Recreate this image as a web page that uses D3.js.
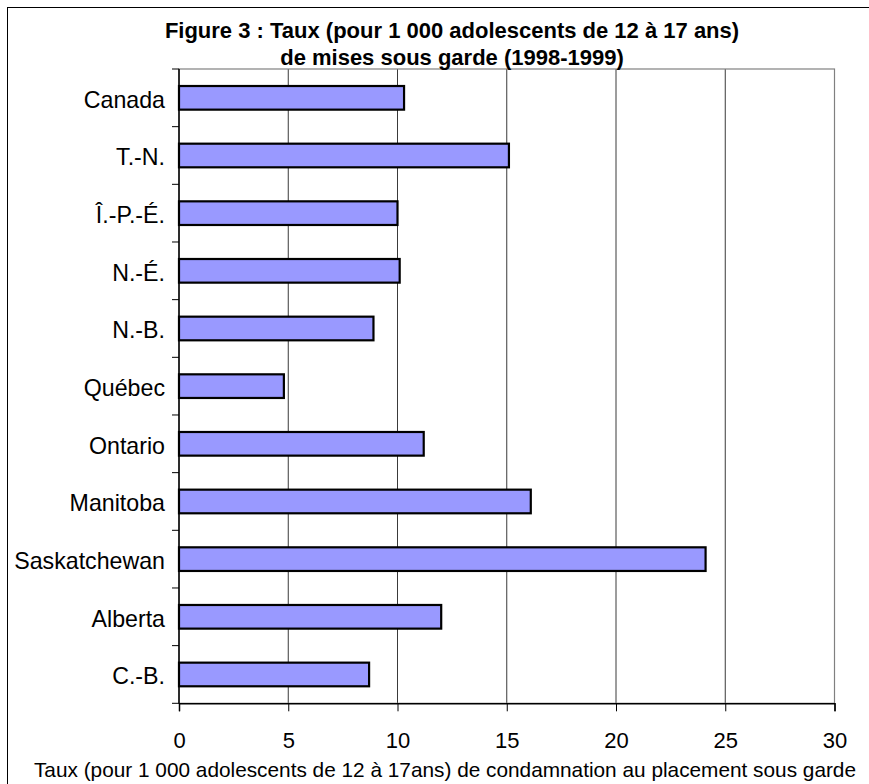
<!DOCTYPE html>
<html>
<head>
<meta charset="utf-8">
<script src="https://cdn.jsdelivr.net/npm/d3@7"></script>
<style>
body { margin: 0; background: #fff; }
svg { display: block; font-family: "Liberation Sans", Arial, sans-serif; }
</style>
</head>
<body>
<svg id="chart" width="869" height="784"></svg>
<script>
var provinces = ["Canada", "T.-N.", "Î.-P.-É.", "N.-É.", "N.-B.", "Québec", "Ontario", "Manitoba", "Saskatchewan", "Alberta", "C.-B."];
var rates = [10.3, 15.1, 10.0, 10.1, 8.9, 4.8, 11.2, 16.1, 24.1, 12.0, 8.7];
var xTicks = [0, 5, 10, 15, 20, 25, 30];
var titleLines = ["Figure 3 : Taux (pour 1 000 adolescents de 12 à 17 ans)", "de mises sous garde (1998-1999)"];
var xTitle = "Taux (pour 1 000 adolescents de 12 à 17ans) de condamnation au placement sous garde";

var svg = d3.select("#chart"),
    margin = {top: 69, right: 34, bottom: 81, left: 179},
    width = 834.5 - margin.left,
    height = 703.3 - margin.top,
    g = svg.append("g").attr("transform", "translate(" + margin.left + "," + margin.top + ")");

// outer chart frame (runs off the page on the right and bottom)
svg.append("rect")
    .attr("x", 7.5).attr("y", 7.5)
    .attr("width", 880).attr("height", 800)
    .attr("fill", "none").attr("stroke", "#000").attr("stroke-width", 1);

var x = d3.scaleLinear()
    .domain([0, 30])
    .range([0, width]);

var y = d3.scaleBand()
    .domain(provinces)
    .range([0, height])
    .paddingInner(0.59)
    .paddingOuter(0.295);

var band = d3.scaleBand().domain(provinces).range([0, height]);

// gridlines
g.append("g")
    .selectAll("line")
    .data(xTicks.slice(1))
    .join("line")
    .attr("x1", d => x(d)).attr("x2", d => x(d))
    .attr("y1", 0).attr("y2", height)
    .attr("stroke", "#3a3a3a").attr("stroke-width", 1);

// plot border
g.append("rect")
    .attr("width", width).attr("height", height)
    .attr("fill", "none").attr("stroke", "#808080").attr("stroke-width", 1.2);

// bars
g.append("g")
    .selectAll("rect")
    .data(rates)
    .join("rect")
    .attr("x", 0)
    .attr("y", (d, i) => y(provinces[i]))
    .attr("width", d => x(d))
    .attr("height", y.bandwidth())
    .attr("fill", "#9999ff")
    .attr("stroke", "#000")
    .attr("stroke-width", 2.2);

// y axis: ticks at band boundaries, labels centred in bands
var yAxis = g.append("g");
yAxis.append("line")
    .attr("x1", 0).attr("x2", 0).attr("y1", 0).attr("y2", height)
    .attr("stroke", "#000").attr("stroke-width", 1.5);
yAxis.selectAll("line.tk")
    .data(d3.range(provinces.length + 1))
    .join("line")
    .attr("class", "tk")
    .attr("x1", -7).attr("x2", 0)
    .attr("y1", i => i * band.step()).attr("y2", i => i * band.step())
    .attr("stroke", "#000").attr("stroke-width", 1);
yAxis.selectAll("text")
    .data(provinces)
    .join("text")
    .attr("x", -14)
    .attr("y", d => band(d) + band.bandwidth() / 2)
    .attr("dy", "0.42em")
    .attr("text-anchor", "end")
    .attr("font-size", 23.2)
    .attr("fill", "#000")
    .text(d => d);

// x axis
g.append("g")
    .attr("class", "axis axis--x")
    .attr("transform", "translate(0," + height + ")")
    .call(d3.axisBottom(x).tickValues(xTicks).tickSize(8).tickPadding(21))
    .call(a => a.select(".domain").attr("stroke-width", 1.5))
    .call(a => a.selectAll("text").attr("font-size", 22).attr("font-family", "Liberation Sans, Arial, sans-serif").attr("fill", "#000"));

// titles
svg.append("g")
    .selectAll("text")
    .data(titleLines)
    .join("text")
    .attr("x", 452)
    .attr("y", (d, i) => 38 + i * 27)
    .attr("text-anchor", "middle")
    .attr("font-size", 22)
    .attr("font-weight", "bold")
    .text(d => d);

svg.append("text")
    .attr("x", 445)
    .attr("y", 777)
    .attr("text-anchor", "middle")
    .attr("font-size", 20.8)
    .text(xTitle);
</script>
</body>
</html>
